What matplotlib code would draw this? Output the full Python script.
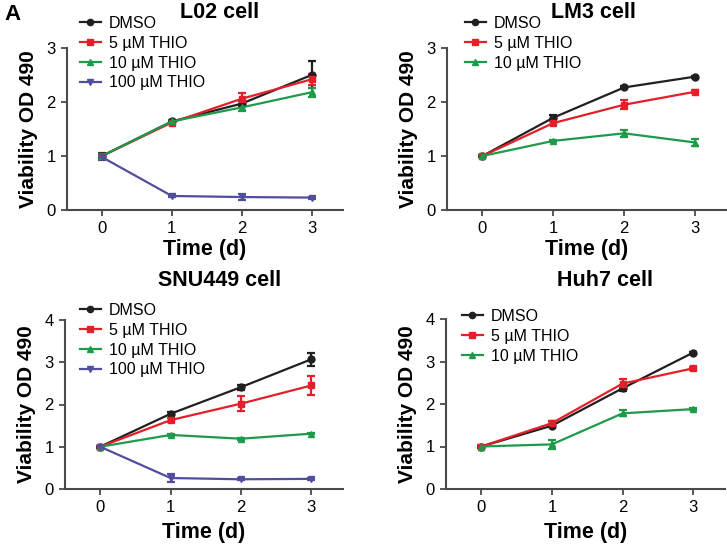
import matplotlib
matplotlib.use("Agg")
import matplotlib.pyplot as plt
from matplotlib.lines import Line2D

plt.rcParams["font.family"] = ["Liberation Sans", "DejaVu Sans"]

days = [0, 1, 2, 3]
labels = ["DMSO", "5 µM THIO", "10 µM THIO", "100 µM THIO"]
colors = ["#231f20", "#e3202a", "#1e9a4a", "#4f4f9e"]
markers = ["o", "s", "^", "v"]

# L02 cell
l02_mean = [
    [1.00, 1.64, 1.97, 2.50],
    [1.00, 1.62, 2.06, 2.42],
    [1.00, 1.64, 1.90, 2.18],
    [0.98, 0.26, 0.24, 0.23],
]
l02_err = [
    [0.05, 0.02, 0.04, 0.25],
    [0.03, 0.02, 0.10, 0.10],
    [0.03, 0.02, 0.07, 0.08],
    [0.05, 0.02, 0.06, 0.02],
]

# LM3 cell
lm3_mean = [
    [1.00, 1.71, 2.27, 2.47],
    [1.00, 1.61, 1.95, 2.19],
    [1.00, 1.28, 1.42, 1.25],
]
lm3_err = [
    [0.02, 0.05, 0.02, 0.02],
    [0.02, 0.03, 0.08, 0.03],
    [0.02, 0.02, 0.06, 0.07],
]

# SNU449 cell
snu_mean = [
    [1.00, 1.78, 2.41, 3.07],
    [1.00, 1.63, 2.02, 2.45],
    [1.00, 1.28, 1.19, 1.31],
    [1.00, 0.26, 0.23, 0.24],
]
snu_err = [
    [0.02, 0.04, 0.06, 0.15],
    [0.02, 0.05, 0.18, 0.22],
    [0.02, 0.02, 0.02, 0.02],
    [0.02, 0.10, 0.02, 0.02],
]

# Huh7 cell
huh_mean = [
    [1.00, 1.49, 2.37, 3.21],
    [1.00, 1.55, 2.48, 2.84],
    [1.00, 1.05, 1.78, 1.88],
]
huh_err = [
    [0.02, 0.03, 0.07, 0.02],
    [0.03, 0.05, 0.10, 0.03],
    [0.02, 0.10, 0.07, 0.02],
]

W, H = 727, 547
fig = plt.figure(figsize=(W / 100, H / 100), dpi=100)


def px_axes(left, top, right, bottom):
    return fig.add_axes([left / W, 1 - bottom / H, (right - left) / W, (bottom - top) / H])


panels = [
    ("L02 cell", l02_mean, l02_err, (67, 48, 343, 210), 3, (220, 13), (80, 16), 2),
    ("LM3 cell", lm3_mean, lm3_err, (447, 48, 727, 210), 3, (593, 13), (465, 16), 2),
    ("SNU449 cell", snu_mean, snu_err, (65, 320, 343, 489), 4, (220, 281), (80, 303), 5),
    ("Huh7 cell", huh_mean, huh_err, (446, 319, 725, 489), 4, (605, 281), (462, 309), 5),
]

axis_col = "#4a4a4a"
for title, means, errs, box, ymax, tpos, lpos, xpad in panels:
    ax = px_axes(*box)
    handles = []
    for i in range(len(means)):
        ax.errorbar(days, means[i], yerr=errs[i], color=colors[i], marker=markers[i],
                    markersize=5, linewidth=1.6, elinewidth=1.6, capsize=3, capthick=1.6,
                    clip_on=False)
        handles.append(Line2D([], [], color=colors[i], marker=markers[i], markersize=4.5,
                              linewidth=1.6))
    ax.set_xlim(-0.5, 3.45)
    ax.set_ylim(0, ymax)
    ax.set_xticks(days)
    ax.set_yticks(range(ymax + 1))
    for s in ["top", "right"]:
        ax.spines[s].set_visible(False)
    for s in ["left", "bottom"]:
        ax.spines[s].set_color(axis_col)
        ax.spines[s].set_linewidth(1.5)
    ax.tick_params(direction="out", length=4, width=1.3, color=axis_col, labelsize=12, pad=4)
    ax.set_xlabel("Time (d)", fontsize=15.5, fontweight="bold", labelpad=xpad)
    ax.set_ylabel("Viability OD 490", fontsize=15, fontweight="bold", labelpad=6)
    fig.text(tpos[0] / W, 1 - tpos[1] / H, title, fontsize=15.5, fontweight="bold",
             ha="center", va="center")
    ax.legend(handles, labels[:len(means)], loc="upper left",
              bbox_to_anchor=(lpos[0] / W, 1 - lpos[1] / H),
              bbox_transform=fig.transFigure, frameon=False, fontsize=11.5,
              handlelength=1.3, handletextpad=0.5, labelspacing=0.3,
              borderpad=0, borderaxespad=0)

fig.text(4 / W, 1 - 14 / H, "A", fontsize=16, fontweight="bold", ha="left", va="center")

fig.savefig("out.png", dpi=100)
